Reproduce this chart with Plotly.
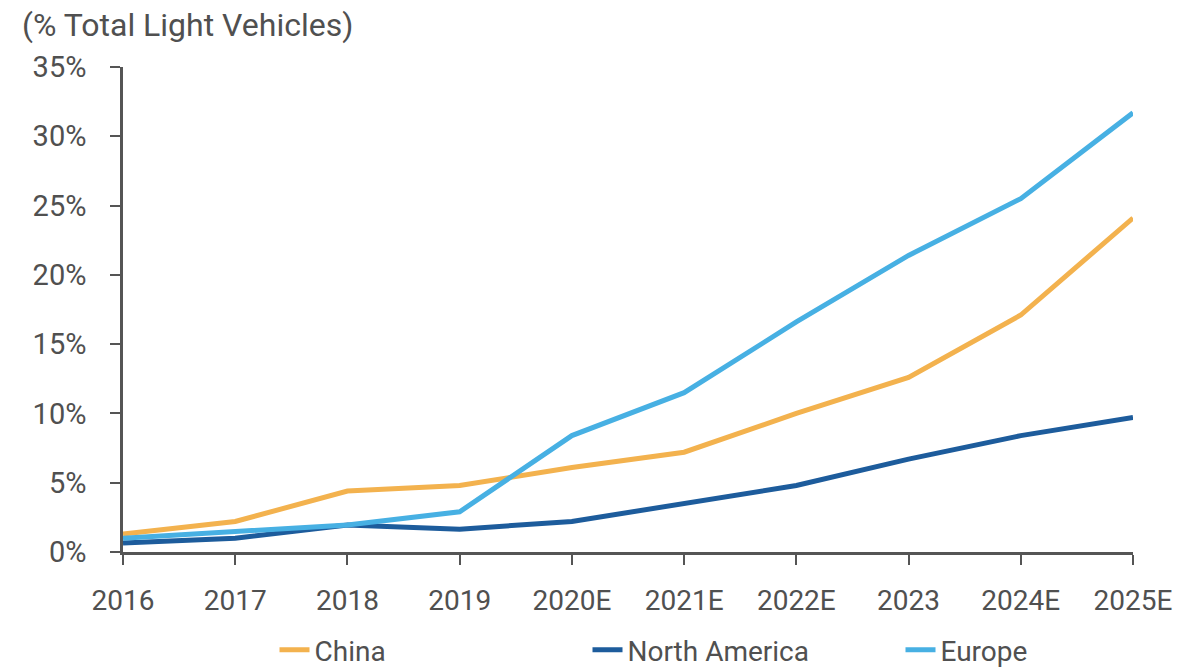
import plotly.graph_objects as go

years = ["2016", "2017", "2018", "2019", "2020E", "2021E", "2022E", "2023", "2024E", "2025E"]
china = [1.3, 2.2, 4.4, 4.8, 6.1, 7.2, 10.0, 12.6, 17.1, 24.1]
north_america = [0.65, 1.0, 1.95, 1.65, 2.2, 3.5, 4.8, 6.7, 8.4, 9.7]
europe = [1.0, 1.45, 1.95, 2.9, 8.4, 11.5, 16.6, 21.4, 25.5, 31.7]

series = [
    ("China", china, "#F3B24E"),
    ("North America", north_america, "#1D5C9C"),
    ("Europe", europe, "#47B0E3"),
]
y_ticks = [0, 5, 10, 15, 20, 25, 30, 35]
y_title = "(% Total Light Vehicles)"

FONT = "Roboto"
TXT = "#505050"
AX = "#555555"

fig = go.Figure()
for name, vals, col in series:
    fig.add_trace(go.Scatter(
        x=years, y=vals, name=name, mode="lines",
        line=dict(color=col, width=5),
    ))

fig.update_layout(
    width=1203, height=667,
    margin=dict(l=123, r=70, t=67, b=115, autoexpand=False),
    paper_bgcolor="white", plot_bgcolor="white",
    font=dict(family=FONT, color=TXT, size=28),
    showlegend=True,
    legend=dict(
        orientation="h", x=0.15, xanchor="left", y=-0.202, yanchor="middle",
        font=dict(size=28, color=TXT, family=FONT),
        entrywidth=268, itemwidth=30,
    ),
    xaxis=dict(
        type="category", range=[0, 9],
        showgrid=False, zeroline=False,
        showline=True, linecolor=AX, linewidth=2.5,
        ticks="outside", ticklen=10, tickwidth=2, tickcolor=AX,
        tickfont=dict(size=28, color=TXT, family=FONT),
        ticklabelstandoff=12,
    ),
    yaxis=dict(
        range=[0, 35], tickvals=y_ticks,
        ticktext=[f"{v}%" for v in y_ticks],
        showgrid=False, zeroline=False,
        showline=True, linecolor=AX, linewidth=2.5,
        ticks="outside", ticklen=10, tickwidth=2, tickcolor=AX,
        tickfont=dict(size=29, color=TXT, family=FONT),
        ticklabelstandoff=18,
    ),
    annotations=[dict(
        text=y_title, xref="paper", yref="paper",
        x=-103/1010, y=1 + 42/485, xanchor="left", yanchor="middle",
        showarrow=False, font=dict(size=32, color=TXT, family=FONT),
    )],
)

fig.write_html("out.html")
